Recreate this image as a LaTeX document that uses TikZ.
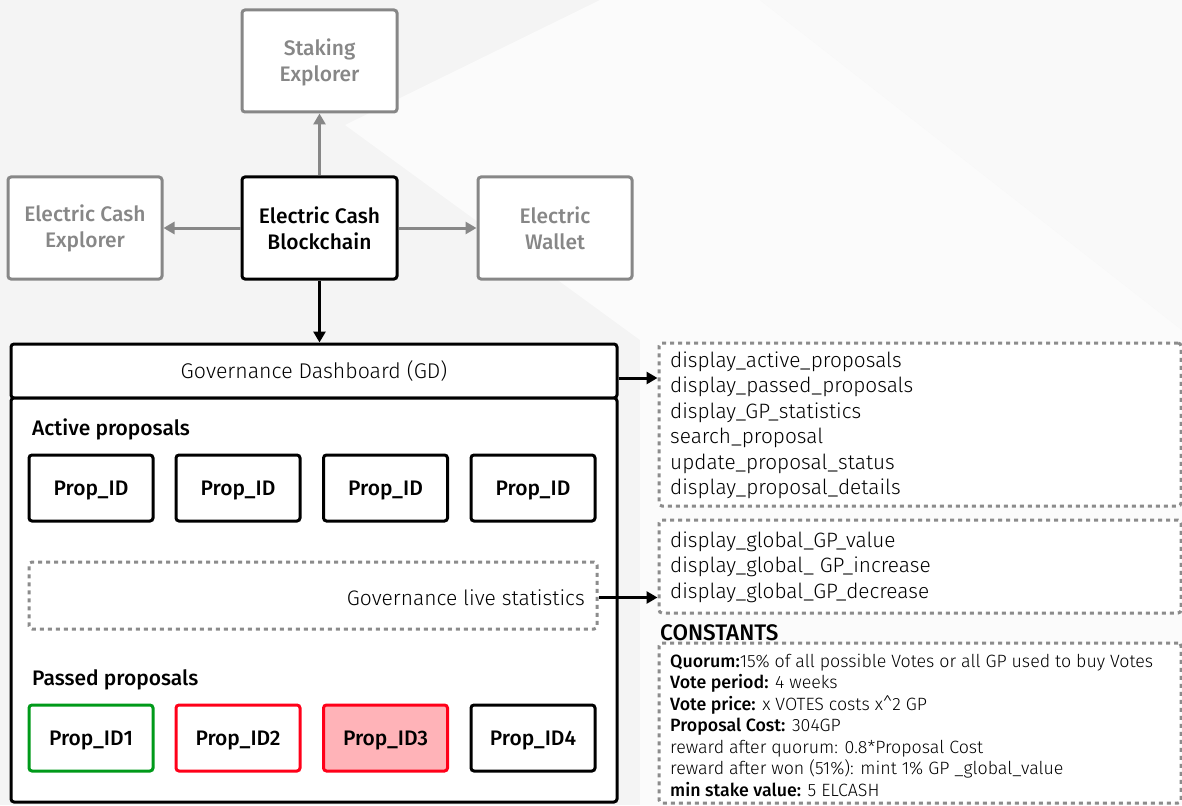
\documentclass[tikz,border=0pt]{standalone}
\usepackage{fontspec}
\setmainfont{Fira Sans}[UprightFont=* Light, BoldFont=* Medium]
\newfontfamily\medfont{Fira Sans Medium}
\usetikzlibrary{arrows.meta}
\definecolor{gr}{HTML}{878787}
\definecolor{dg}{HTML}{8C8C8C}
\definecolor{okgreen}{HTML}{009A1A}
\definecolor{badred}{HTML}{FF0019}
\definecolor{pink}{HTML}{FFB3B8}
\definecolor{bgg}{HTML}{F4F4F4}
\definecolor{bgl}{HTML}{FBFBFB}
\tikzset{
  box/.style={draw, line width=3pt, rounded corners=3pt, fill=white, align=center, inner sep=0pt},
  grey box/.style={box, draw=gr, text=gr, font=\medfont\fontsize{21}{26}\selectfont},
  black box/.style={box, draw=black, text=black, font=\medfont\fontsize{21}{26}\selectfont},
  prop/.style={box, minimum width=124pt, minimum height=66pt, text depth=0pt, font=\medfont\fontsize{21}{25}\selectfont},
  dbox/.style={draw=dg, line width=3pt, dash pattern=on 4pt off 4pt, rounded corners=3pt, fill=white, inner sep=0pt},
  garr/.style={draw=gr, line width=3pt, -{Triangle[length=11pt,width=12pt]}},
  barr/.style={draw=black, line width=3pt, -{Triangle[length=11pt,width=12pt]}},
  func/.style={anchor=base west, inner sep=0pt, font=\fontsize{20.8}{25}\selectfont},
  cst/.style={anchor=base west, inner sep=0pt, font=\fontsize{17.8}{21}\selectfont},
  heading/.style={anchor=base west, inner sep=0pt, font=\medfont\fontsize{21}{25}\selectfont},
}
\begin{document}
\begin{tikzpicture}[x=1pt,y=-1pt]
\useasboundingbox (0,0) rectangle (1182,805);
\fill[bgg] (0,0) rectangle (1182,805);
\fill[bgl] (345,125) -- (600,0) -- (760,0) -- (1182,330) -- (1182,805) -- (640,805) -- (640,340) -- cycle;
\fill[white!50!bgg] (760,0) -- (1182,0) -- (1182,330) -- cycle;

% top boxes
\node[grey box, minimum width=155pt, minimum height=102pt] (stak) at (319.5,61) {\rule{0pt}{20pt}Staking\\Explorer};
\node[grey box, minimum width=154pt, minimum height=102pt] (expl) at (85,228) {Electric Cash\\Explorer};
\node[black box, minimum width=155pt, minimum height=102pt] (chain) at (319.5,228) {Electric Cash\\Blockchain};
\node[grey box, minimum width=154pt, minimum height=102pt] (wall) at (555,228) {Electric\\Wallet};

\draw[garr] (chain) -- (stak);
\draw[garr] (chain) -- (expl);
\draw[garr] (chain) -- (wall);

% dashboard
\node[box, minimum width=606pt, minimum height=54pt, font=\fontsize{21.3}{25}\selectfont] (gdh) at (314,371) {Governance Dashboard (GD)};
\node[box, minimum width=606pt, minimum height=404pt] (gdb) at (314,600) {};
\draw[barr] (chain.south) -- (chain.south |- gdh.north);

\node[heading] (act) at (32,435) {Active proposals};
\node[prop] (a1) at (91,488) {Prop\_ID};
\node[prop] (a2) at (238,488) {Prop\_ID};
\node[prop] (a3) at (385.5,488) {Prop\_ID};
\node[prop] (a4) at (533,488) {Prop\_ID};

\node[dbox, minimum width=568pt, minimum height=67pt] (stats) at (313,595.5) {};
\node[anchor=base east, inner sep=0pt, font=\fontsize{21}{25}\selectfont] (statst) at (585,605) {Governance live statistics};

\node[heading] (pas) at (32,685) {Passed proposals};
\node[prop, draw=okgreen] (p1) at (91,738) {Prop\_ID1};
\node[prop, draw=badred] (p2) at (238,738) {Prop\_ID2};
\node[prop, draw=badred, fill=pink] (p3) at (385.5,738) {Prop\_ID3};
\node[prop] (p4) at (533,738) {Prop\_ID4};

% function boxes
\node[dbox, minimum width=522pt, minimum height=163pt] (fb1) at (920,424.5) {};
\node[dbox, minimum width=522pt, minimum height=93pt] (fb2) at (920,566.5) {};
\node[dbox, minimum width=522pt, minimum height=160pt] (cb) at (920,723) {};

\coordinate (gdout) at ([yshift=-7pt]gdh.east);
\draw[barr] (gdout) -- (gdout -| fb1.west);
\coordinate (stout) at ([yshift=-2pt]stats.east);
\draw[barr] (stout) -- (stout -| fb2.west);

\node[func] (f1) at (670,367) {display\_active\_proposals};
\node[func] (f2) at (670,392.5) {display\_passed\_proposals};
\node[func] (f3) at (670,418) {display\_GP\_statistics};
\node[func] (f4) at (670,443.5) {search\_proposal};
\node[func] (f5) at (670,469) {update\_proposal\_status};
\node[func] (f6) at (670,494.5) {display\_proposal\_details};

\node[func] (g1) at (670,547) {display\_global\_GP\_value};
\node[func] (g2) at (670,572.5) {display\_global\_ GP\_increase};
\node[func] (g3) at (670,598) {display\_global\_GP\_decrease};

\node[anchor=base west, inner sep=0pt, font=\medfont\fontsize{22.5}{26}\selectfont] (consts) at (660,640) {CONSTANTS};
\node[cst] (c1) at (670,667) {\textbf{Quorum:}15\% of all possible Votes or all GP used to buy Votes};
\node[cst] (c2) at (670,688.5) {\textbf{Vote period:} 4 weeks};
\node[cst] (c3) at (670,710) {\textbf{Vote price:} x VOTES costs x\^{}2 GP};
\node[cst] (c4) at (670,731.5) {\textbf{Proposal Cost:} 304GP};
\node[cst] (c5) at (670,753) {reward after quorum: 0.8*Proposal Cost};
\node[cst] (c6) at (670,774.5) {reward after won (51\%): mint 1\% GP \_global\_value};
\node[cst] (c7) at (670,796) {\textbf{min stake value:} 5 ELCASH};
\end{tikzpicture}
\end{document}
